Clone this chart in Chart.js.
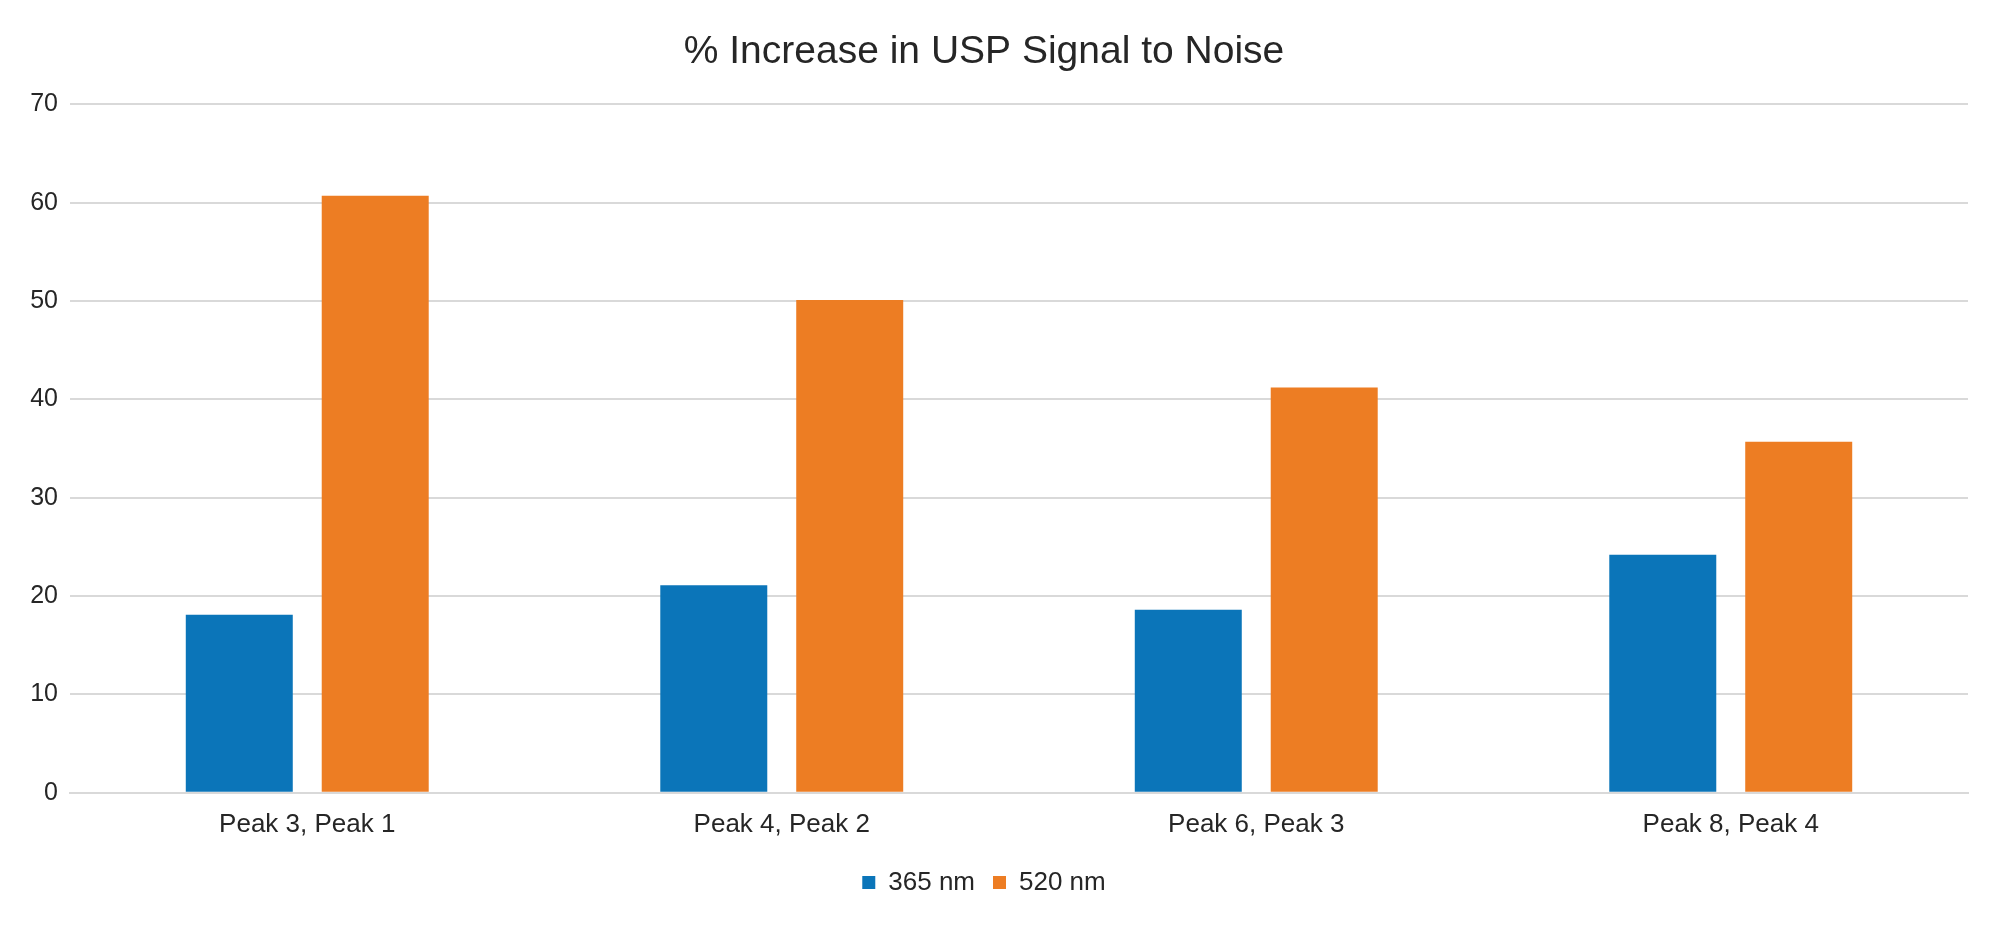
<!DOCTYPE html>
<html>
<head>
<meta charset="utf-8">
<script src="https://cdn.jsdelivr.net/npm/chart.js@4"></script>
<style>
  html, body { margin: 0; padding: 0; background: #ffffff; }
  #wrap { width: 2000px; height: 933px; position: relative; }
</style>
</head>
<body>
<div id="wrap"><canvas id="c"></canvas></div>
<script>
const categories = ["Peak 3, Peak 1", "Peak 4, Peak 2", "Peak 6, Peak 3", "Peak 8, Peak 4"];
const series365 = [18.1, 21.1, 18.6, 24.2];
const series520 = [60.7, 50.1, 41.2, 35.7];
const seriesNames = ["365 nm", "520 nm"];
const chartTitle = "% Increase in USP Signal to Noise";

const FONT = "'Liberation Sans', Arial, sans-serif";
const TEXT = "#262626";

new Chart(document.getElementById("c"), {
  type: "bar",
  data: {
    labels: categories,
    datasets: [
      { label: seriesNames[0], data: series365, backgroundColor: "#0B75B9", borderWidth: 0,
        categoryPercentage: 0.573, barPercentage: 0.787 },
      { label: seriesNames[1], data: series520, backgroundColor: "#ED7D23", borderWidth: 0,
        categoryPercentage: 0.573, barPercentage: 0.787 }
    ]
  },
  options: {
    responsive: true,
    maintainAspectRatio: false,
    animation: false,
    layout: { padding: { left: 0, right: 32, top: 0, bottom: 27.5 } },
    plugins: {
      title: {
        display: true, text: chartTitle, color: TEXT,
        font: { family: FONT, size: 39, weight: "normal", lineHeight: 1.2 },
        padding: { top: 29, bottom: 28.6 }
      },
      legend: {
        display: true, position: "bottom",
        labels: {
          color: TEXT, boxWidth: 13, boxHeight: 13, padding: 18,
          font: { family: FONT, size: 26 }
        }
      },
      tooltip: { enabled: false }
    },
    scales: {
      x: {
        afterFit: (s) => { s.height = 58.8; },
        grid: { display: false, drawTicks: false },
        border: { display: true, color: "#d9d9d9", width: 2 },
        ticks: { color: TEXT, padding: 16.7, font: { family: FONT, size: 26, lineHeight: 1.2 } }
      },
      y: {
        min: 0, max: 70,
        afterFit: (s) => { s.width = 70; },
        grid: { color: "#d9d9d9", lineWidth: 2, drawTicks: false },
        border: { display: false },
        ticks: { stepSize: 10, color: TEXT, padding: 12, font: { family: FONT, size: 25 } }
      }
    }
  }
});
</script>
</body>
</html>
